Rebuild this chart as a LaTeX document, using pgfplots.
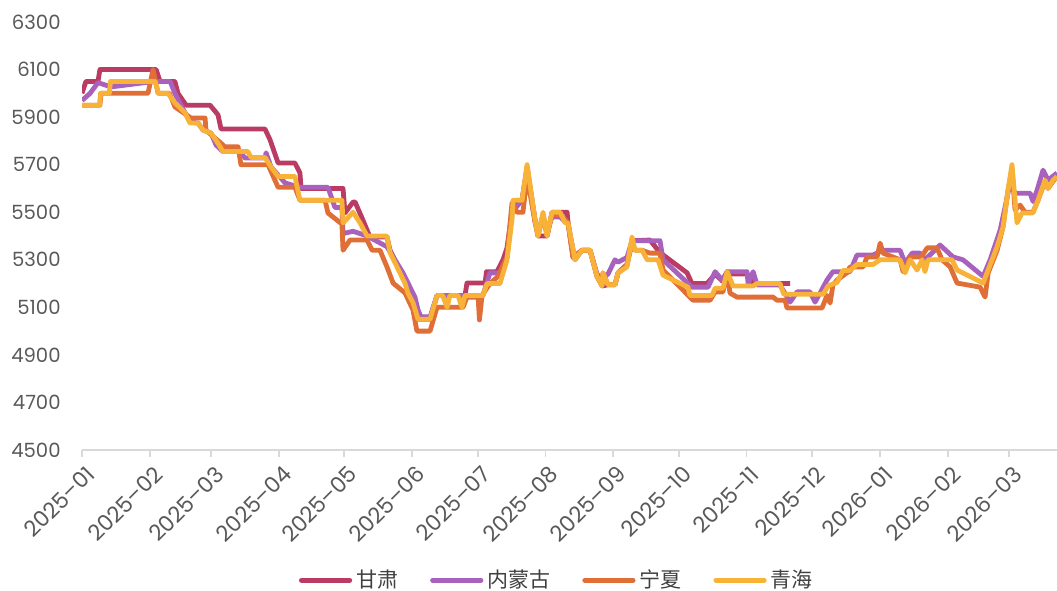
\documentclass[border=0pt]{standalone}
\usepackage{fontspec}
\setmainfont{Poppins}
\newfontfamily\cjk{Noto Sans CJK SC}
\usepackage{pgfplots}
\pgfplotsset{compat=1.18}
\definecolor{cGS}{HTML}{BA3B64}
\definecolor{cNM}{HTML}{A862BE}
\definecolor{cNX}{HTML}{E06E37}
\definecolor{cQH}{HTML}{F8B238}
\definecolor{tickgray}{HTML}{595959}
\begin{document}
\begin{tikzpicture}
\useasboundingbox (-41bp,-70.5bp) rectangle (487.5bp,225bp);
\begin{axis}[
  at={(0,0)}, anchor=south west,
  scale only axis, width=487.5bp, height=214bp,
  xmin=0, xmax=446, ymin=4500, ymax=6300,
  enlargelimits=false,
  axis x line*=bottom, axis y line*=left,
  y axis line style={draw=none},
  x axis line style={draw=black!15, line width=0.9bp},
  ytick={4500,4700,...,6300},
  xtick={0,31,59,90,120,151,181,212,243,273,304,334,365,396,424},
  xticklabels={2025–01,2025–02,2025–03,2025–04,2025–05,2025–06,2025–07,2025–08,2025–09,2025–10,2025–11,2025–12,2026–01,2026–02,2026–03},
  ytick style={draw=none},
  xtick style={draw=black!15, line width=0.9bp},
  tick align=outside, major tick length=3.5bp,
  /pgf/number format/assume math mode=true,
  /pgf/number format/1000 sep={},
  tick label style={text=tickgray},
  xticklabel style={font=\fontsize{11bp}{13bp}\selectfont, rotate=45, anchor=north east, inner sep=1.5bp, yshift=-2bp},
  yticklabel style={font=\fontsize{9.8bp}{12bp}\selectfont, inner sep=1bp, xshift=-6bp},
  legend columns=4,
  legend style={at={(0.488,-0.304)}, anchor=center, draw=none, fill=none,
    font=\cjk\fontsize{10.5bp}{12bp}\selectfont, text=black!75,
    /tikz/every even column/.append style={column sep=14bp}},
  legend image code/.code={\draw[#1, line width=2.6bp, line cap=round] (0bp,0bp) -- (24bp,0bp);},
  every axis plot/.append style={line width=2.4bp, line join=round, mark=none},
]
\addplot[cGS] coordinates {
(0,6000) (1.8,6050) (7.3,6050) (8.2,6100) (33.9,6100) (35.7,6050) (42.5,6050) (43.9,6000) (47.6,5950) (58.6,5950) (62.2,5910) (63.6,5850) (83.7,5850) (86,5805) (89.7,5707) (97.4,5707) (99.7,5665) (100.2,5600) (119.4,5600) (120.3,5497) (124,5543) (124.9,5543) (128.5,5467) (131.7,5396) (139.5,5396) (140.9,5340) (146.8,5230) (151.4,5120) (153.7,5050) (159.2,5050) (162.4,5150) (175.2,5150) (176.1,5202) (184.4,5202) (185,5250) (189.8,5250) (192.6,5300) (194.4,5350) (196.7,5500) (199,5550) (201.3,5550) (203.6,5690) (207.2,5470) (208.6,5400) (212.7,5400) (215,5500) (221.9,5500) (222.3,5460) (224.6,5310) (228.7,5340) (232.4,5340) (235.6,5230) (238,5190) (240.6,5195) (243.8,5195) (245.2,5245) (249.3,5280) (251.6,5380) (259.8,5383) (264.4,5330) (276.8,5245) (279,5200) (285.9,5200) (289.6,5240) (293,5210) (295,5240) (304,5240) (307,5200) (323.9,5200)
};
\addlegendentry{甘肃}
\addplot[cNM] coordinates {
(0,5970) (3.7,6000) (7.3,6045) (13.3,6027) (28.8,6045) (33.4,6050) (40.3,6050) (42.5,6000) (45.3,5950) (49.4,5880) (53.1,5875) (55.4,5845) (59,5833) (61.3,5783) (64.5,5755) (71.4,5762) (74.6,5728) (83.7,5728) (84.2,5750) (86.5,5690) (92.9,5623) (99.7,5605) (112.5,5605) (115.7,5520) (118.9,5520) (119.4,5410) (124,5420) (130.4,5400) (139.5,5355) (146.8,5245) (152.3,5143) (153.7,5090) (155,5060) (159.2,5060) (162.4,5150) (183.4,5150) (186.6,5245) (191.2,5245) (194.4,5310) (196.7,5500) (201.3,5550) (203.6,5680) (207.2,5460) (208.6,5420) (210.9,5480) (212.7,5420) (215,5480) (218.7,5480) (221,5460) (222.3,5455) (225.5,5300) (228.7,5340) (232.4,5340) (235.6,5240) (237.9,5220) (240.6,5240) (243.8,5300) (245.2,5290) (249.3,5310) (251.6,5380) (264.4,5380) (265.8,5300) (279,5185) (286.4,5185) (289.6,5250) (292.8,5215) (295.1,5250) (304.2,5250) (304.7,5200) (307,5250) (308.8,5194) (319.3,5194) (323.9,5122) (327.1,5165) (333,5165) (335.3,5122) (337.6,5160) (340.8,5215) (343.5,5250) (351.3,5250) (354.5,5320) (361.8,5320) (366.4,5340) (374.2,5340) (376.5,5286) (379.7,5328) (383.4,5328) (385.6,5300) (392.5,5362) (398.4,5312) (403,5300) (412.2,5230) (415.4,5300) (420,5425) (424.5,5620) (426.8,5580) (433.7,5580) (435,5545) (436.9,5593) (439.6,5677) (441.9,5635) (446,5665)
};
\addlegendentry{内蒙古}
\addplot[cNX] coordinates {
(0,5950) (8.2,5950) (8.7,6000) (30.2,6000) (32.5,6100) (34.8,6000) (40,6000) (42.5,5943) (49.9,5896) (56.3,5896) (56.7,5845) (63.6,5790) (65.4,5775) (71.4,5775) (72.7,5700) (85.1,5700) (89.7,5605) (97.4,5605) (99.7,5550) (111.2,5550) (112.5,5497) (118.9,5450) (119.4,5340) (122.6,5383) (130.4,5383) (132.7,5340) (136.3,5340) (139.5,5270) (142.3,5202) (147.8,5160) (151.4,5089) (153.2,5000) (159.2,5000) (162.4,5100) (174.3,5100) (176.1,5143) (181.2,5143) (181.8,5047) (183,5150) (186.6,5200) (190.3,5230) (194.4,5312) (196.7,5540) (199,5500) (201.7,5500) (203.6,5650) (207.2,5460) (208.6,5400) (210.9,5490) (212.7,5400) (215,5490) (218.7,5490) (220,5480) (222.3,5455) (224.6,5310) (228.7,5340) (232.4,5340) (235.6,5230) (237.9,5190) (238.3,5245) (240.6,5195) (243.8,5195) (245.2,5245) (249.3,5280) (251.6,5370) (253,5340) (256.2,5340) (259.8,5328) (264.4,5328) (265.8,5257) (279.5,5130) (287.3,5130) (289.6,5165) (293.2,5165) (295.1,5250) (296.4,5160) (299.6,5143) (316.1,5143) (317.9,5130) (321.6,5130) (322.5,5097) (338.5,5097) (340.8,5150) (342.2,5118) (343.5,5194) (345.4,5215) (349.9,5245) (351.3,5270) (357.3,5270) (359.1,5312) (363.7,5312) (365.1,5370) (366.4,5328) (374.2,5300) (375.6,5250) (378.8,5312) (384,5312) (386.6,5350) (391.1,5350) (393.4,5300) (397.1,5270) (400.3,5202) (410.8,5185) (413.1,5143) (414.5,5245) (418.6,5340) (421.3,5438) (423.6,5593) (425.4,5680) (426.8,5510) (429.1,5530) (431.4,5500) (435,5500) (437.3,5550) (440.5,5630) (441.9,5600) (444.2,5630) (446,5650)
};
\addlegendentry{宁夏}
\addplot[cQH] coordinates {
(0,5950) (8,5950) (8.5,6000) (12.5,6000) (13,6050) (33.5,6050) (35,6000) (39.3,6000) (42.5,5960) (47,5920) (49.4,5875) (53.1,5875) (55.4,5845) (59,5833) (62.2,5790) (64.5,5755) (75.9,5755) (77.3,5730) (83.7,5730) (86.5,5690) (89.7,5650) (97.4,5650) (99.7,5550) (118.9,5550) (119.4,5455) (124,5500) (127.2,5455) (130.4,5400) (139.5,5400) (140.9,5330) (144.1,5270) (147.8,5200) (149.1,5160) (151.4,5120) (153.7,5050) (159.2,5050) (162.4,5150) (165,5150) (167,5100) (168.3,5150) (172,5150) (173.8,5100) (175.2,5150) (183.4,5150) (185.3,5200) (191.2,5200) (194.4,5300) (196.7,5470) (197.2,5550) (201.3,5550) (203.6,5700) (207.2,5470) (208.6,5400) (210.9,5500) (212.7,5400) (215,5500) (218.7,5500) (221,5455) (222.3,5455) (225.5,5300) (228.7,5340) (232.4,5340) (235.6,5230) (237.9,5190) (238.3,5245) (240.6,5195) (243.8,5195) (245.2,5245) (249.3,5270) (251.6,5396) (253,5340) (256.2,5340) (258.5,5300) (263.5,5300) (265.8,5235) (277.2,5185) (278.1,5150) (288.2,5150) (289.6,5180) (293.2,5180) (295.1,5250) (297.8,5190) (307,5190) (308.8,5200) (319.3,5200) (321,5155) (339,5155) (341.3,5190) (345.4,5205) (348.1,5255) (351.3,5255) (354.5,5280) (361.8,5280) (365.1,5300) (374.2,5300) (376.5,5245) (378.8,5300) (382,5257) (384.3,5300) (385.6,5250) (387,5300) (398,5300) (400.3,5257) (412.2,5202) (414,5245) (418.6,5355) (421.3,5438) (423.6,5593) (425.4,5700) (427.7,5455) (430,5497) (435,5497) (437.3,5550) (440.5,5635) (441.9,5600) (444.2,5635) (446,5650)
};
\addlegendentry{青海}
\end{axis}
\end{tikzpicture}
\end{document}
